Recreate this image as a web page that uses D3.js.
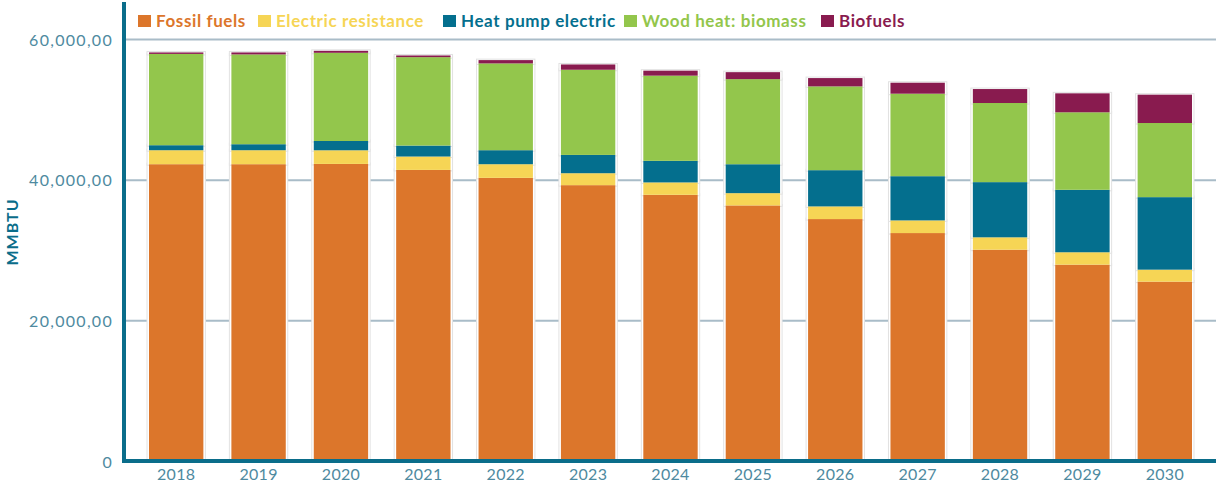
<!DOCTYPE html>
<html>
<head>
<meta charset="utf-8">
<script src="https://cdn.jsdelivr.net/npm/d3@7"></script>
<style>
  body { margin: 0; background: #fff; }
  svg { display: block; font-family: "Lato", "Open Sans", sans-serif; }
  .tick-y { fill: #4e8aa0; font-size: 16px; letter-spacing: 1.3px; }
  .tick-x { fill: #4e8aa0; font-size: 16px; letter-spacing: 0.3px; }
</style>
</head>
<body>
<div id="chart"></div>
<script>
// chart size
var svgWidth = 1216;
var svgHeight = 485;

// data (MMBTU)
var years = ["2018", "2019", "2020", "2021", "2022", "2023", "2024", "2025", "2026", "2027", "2028", "2029", "2030"];
var seriesNames = ["Fossil fuels", "Electric resistance", "Heat pump electric", "Wood heat: biomass", "Biofuels"];
var fossilFuels = [42270, 42270, 42310, 41460, 40330, 39290, 37920, 36410, 34470, 32480, 30115, 27990, 25575];
var electricResistance = [1990, 1990, 1940, 1900, 1940, 1700, 1760, 1745, 1800, 1800, 1760, 1760, 1700];
var heatPumpElectric = [710, 850, 1320, 1560, 1990, 2600, 3070, 4110, 5150, 6285, 7845, 8880, 10310];
var woodBiomass = [12980, 12770, 12540, 12570, 12340, 12110, 12110, 12100, 11915, 11730, 11250, 11020, 10540];
var biofuels = [210, 280, 280, 240, 470, 750, 710, 990, 1180, 1560, 1985, 2695, 4030];
var yTicks = [0, 20000, 40000, 60000];
var yTickLabels = ["0", "20,000,00", "40,000,00", "60,000,00"];

var colors = ["#dc762b", "#f6d555", "#046f8e", "#93c64c", "#891b4f"];

// build a table for d3.stack
var table = years.map(function(y, i) {
  return {
    year: y,
    "Fossil fuels": fossilFuels[i],
    "Electric resistance": electricResistance[i],
    "Heat pump electric": heatPumpElectric[i],
    "Wood heat: biomass": woodBiomass[i],
    "Biofuels": biofuels[i]
  };
});

var svg = d3.select("#chart")
  .append("svg")
  .attr("width", svgWidth)
  .attr("height", svgHeight);

var xScale = d3.scaleBand()
  .domain(years)
  .range([135, 1206])
  .paddingInner(0.34)
  .paddingOuter(0.17);

var yScale = d3.scaleLinear()
  .domain([0, 60000])
  .range([461.5, 39.5]);

// gridlines
svg.append("g")
  .selectAll("line")
  .data(yTicks.slice(1))
  .enter()
  .append("line")
  .attr("x1", 124)
  .attr("x2", svgWidth)
  .attr("y1", d => yScale(d))
  .attr("y2", d => yScale(d))
  .attr("stroke", "#a9bcc8")
  .attr("stroke-width", 2);

var stacked = d3.stack().keys(seriesNames)(table);

// light halo round each segment
var halo = svg.append("g");
stacked.forEach(function(layer) {
  halo.selectAll(null)
    .data(layer)
    .enter()
    .append("rect")
    .attr("x", d => xScale(d.data.year) - 2)
    .attr("y", d => yScale(d[1]) - 1)
    .attr("width", xScale.bandwidth() + 4)
    .attr("height", d => yScale(d[0]) - yScale(d[1]) + 2)
    .attr("fill", "#fff")
    .attr("stroke", "#e2e2e2")
    .attr("stroke-width", 1);
});

// bars
svg.append("g")
  .selectAll("g")
  .data(stacked)
  .enter()
  .append("g")
  .attr("fill", (d, i) => colors[i])
  .selectAll("rect")
  .data(d => d)
  .enter()
  .append("rect")
  .attr("x", d => xScale(d.data.year))
  .attr("y", d => yScale(d[1]))
  .attr("width", xScale.bandwidth())
  .attr("height", d => yScale(d[0]) - yScale(d[1]));

// axes lines
svg.append("line")
  .attr("x1", 124).attr("x2", 124)
  .attr("y1", 2).attr("y2", 463)
  .attr("stroke", "#0a6d8a")
  .attr("stroke-width", 4);

svg.append("line")
  .attr("x1", 122).attr("x2", svgWidth)
  .attr("y1", 461).attr("y2", 461)
  .attr("stroke", "#0a6d8a")
  .attr("stroke-width", 4);

// y tick labels
svg.append("g")
  .selectAll("text")
  .data(yTicks)
  .enter()
  .append("text")
  .attr("class", "tick-y")
  .attr("x", 113)
  .attr("y", d => yScale(d) + 6)
  .attr("text-anchor", "end")
  .text((d, i) => yTickLabels[i]);

// x tick labels
svg.append("g")
  .selectAll("text")
  .data(years)
  .enter()
  .append("text")
  .attr("class", "tick-x")
  .attr("x", d => xScale(d) + xScale.bandwidth() / 2)
  .attr("y", 480)
  .attr("text-anchor", "middle")
  .text(d => d);

// y axis title
svg.append("text")
  .attr("transform", "translate(18, 232) rotate(-90)")
  .attr("text-anchor", "middle")
  .attr("fill", "#0a6d8a")
  .attr("font-size", "16px")
  .attr("font-weight", "bold")
  .attr("letter-spacing", "1px")
  .text("MMBTU");

// legend
var legendX = [138, 258, 443, 624, 821];
var legend = svg.append("g")
  .selectAll("g")
  .data(seriesNames)
  .enter()
  .append("g")
  .attr("transform", (d, i) => `translate(${legendX[i]}, 15)`);

legend.append("rect")
  .attr("width", 13)
  .attr("height", 12)
  .attr("fill", (d, i) => colors[i]);

legend.append("text")
  .attr("x", 18)
  .attr("y", 12)
  .attr("fill", (d, i) => colors[i])
  .attr("font-size", "17px")
  .attr("font-weight", "bold")
  .attr("letter-spacing", "0.6px")
  .text(d => d);
</script>
</body>
</html>
